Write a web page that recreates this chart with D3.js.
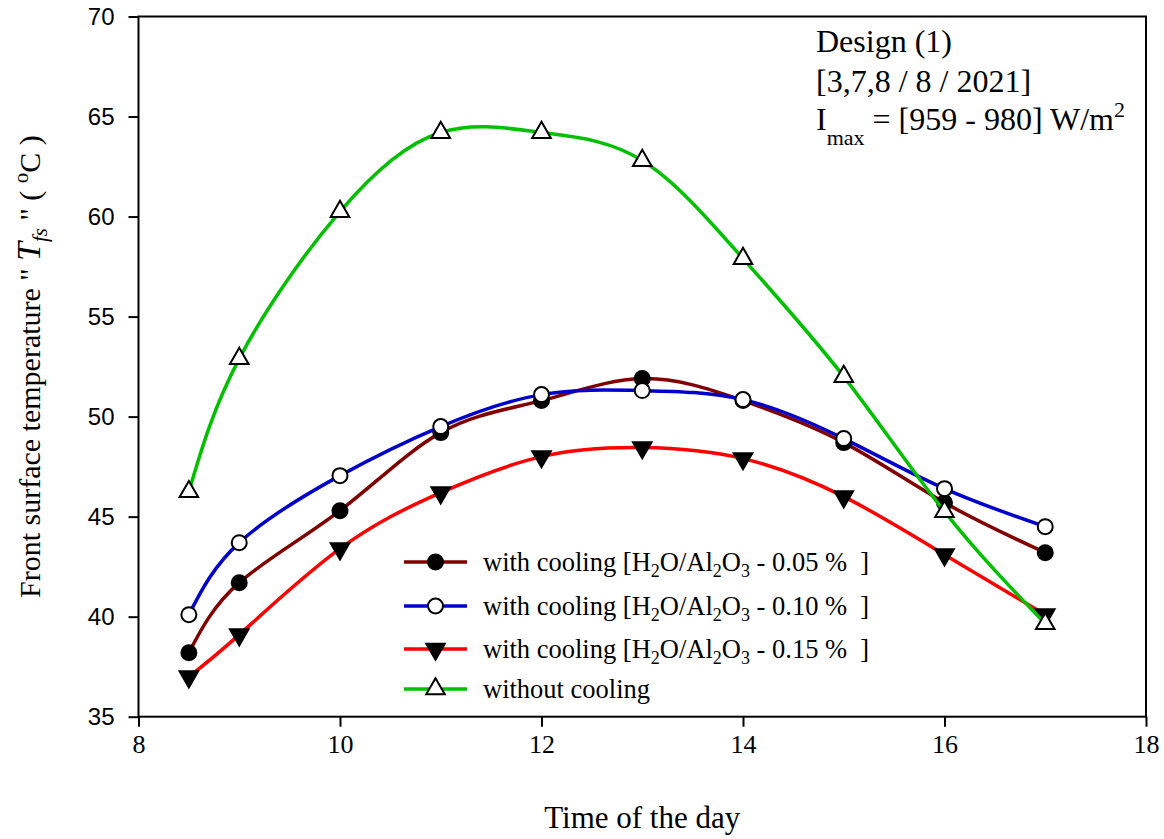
<!DOCTYPE html>
<html>
<head>
<meta charset="utf-8">
<script src="https://d3js.org/d3.v7.min.js"></script>
<style>
  html, body { margin: 0; padding: 0; background: #fff; }
  svg { display: block; }
  text { white-space: pre; }
</style>
</head>
<body>
<svg id="chart" width="1164" height="839"></svg>
<script>
// Time of day (hours)
const hours = [8.5, 9, 10, 11, 12, 13, 14, 15, 16, 17];

// Front surface temperature (°C) for each case
const cool005 = [38.2, 41.7, 45.3, 49.2, 50.8, 51.9, 50.8, 48.7, 45.7, 43.2];
const cool010 = [40.1, 43.7, 47.05, 49.5, 51.1, 51.3, 50.85, 48.9, 46.4, 44.5];
const cool015 = [37.0, 39.1, 43.4, 46.2, 48.0, 48.45, 47.9, 46.0, 43.1, 40.1];
const noCool  = [46.25, 52.9, 60.25, 64.2, 64.2, 62.8, 57.9, 52.0, 45.25, 39.65];

const xTicks = [8, 10, 12, 14, 16, 18];
const yTicks = [35, 40, 45, 50, 55, 60, 65, 70];

const seriesNames = ["0.05", "0.10", "0.15", null];
const seriesColors = ["#800000", "#0000cc", "#ff0000", "#00c000"];
const seriesMarkers = ["dotFilled", "dotOpen", "triDown", "triUp"];
const seriesValues = [cool005, cool010, cool015, noCool];

const svg = d3.select("#chart");
const plotL = 138.5, plotR = 1146, plotT = 16.5, plotB = 716.7;

const x = d3.scaleLinear().domain([8, 18]).range([plotL, plotR]);
const y = d3.scaleLinear().domain([35, 70]).range([plotB, plotT]);

// Axes
const xAxis = svg.append("g")
  .attr("transform", `translate(0,${plotB})`)
  .call(d3.axisBottom(x).tickValues(xTicks).tickSize(10).tickSizeOuter(0).tickPadding(8).tickFormat(d3.format("d")));
xAxis.selectAll("text")
  .attr("font-family", "'Liberation Serif', 'Times New Roman', serif")
  .attr("font-size", 26).attr("fill", "#000");

const yAxis = svg.append("g")
  .attr("transform", `translate(${plotL},0)`)
  .call(d3.axisLeft(y).tickValues(yTicks).tickSize(10).tickSizeOuter(0).tickPadding(14).tickFormat(d3.format("d")));
yAxis.selectAll("text")
  .attr("font-family", "'Liberation Sans', Arial, sans-serif")
  .attr("font-size", 24).attr("fill", "#000");

svg.selectAll(".domain").remove();
svg.selectAll(".tick line").attr("stroke", "#000").attr("stroke-width", 2);

// Frame
svg.append("rect")
  .attr("x", plotL).attr("y", plotT)
  .attr("width", plotR - plotL).attr("height", plotB - plotT)
  .attr("fill", "none").attr("stroke", "#000").attr("stroke-width", 2);

// Marker drawing
function drawMarker(g, type, cx, cy) {
  if (type === "dotFilled" || type === "dotOpen") {
    g.append("circle").attr("cx", cx).attr("cy", cy).attr("r", 7.5)
      .attr("fill", type === "dotFilled" ? "#000" : "#fff")
      .attr("stroke", "#000").attr("stroke-width", 2);
  } else {
    const sym = d3.symbol().type(d3.symbolTriangle).size(150);
    g.append("path").attr("d", sym())
      .attr("transform", `translate(${cx},${cy}) rotate(${type === "triDown" ? 180 : 0})`)
      .attr("fill", type === "triDown" ? "#000" : "#fff")
      .attr("stroke", "#000").attr("stroke-width", 2).attr("stroke-linejoin", "miter");
  }
}

const line = d3.line()
  .x(d => x(d[0]))
  .y(d => y(d[1]))
  .curve(d3.curveNatural);

seriesValues.forEach((vals, i) => {
  const g = svg.append("g");
  const pts = hours.map((h, j) => [h, vals[j]]);
  g.append("path").datum(pts)
    .attr("d", line)
    .attr("fill", "none")
    .attr("stroke", seriesColors[i])
    .attr("stroke-width", 3.5);
  pts.forEach(p => drawMarker(g, seriesMarkers[i], x(p[0]), y(p[1])));
});

// Legend
const serif = "'Liberation Serif', 'Times New Roman', serif";
const legendRows = [562, 606, 649, 689];
legendRows.forEach((ry, i) => {
  const g = svg.append("g");
  g.append("line").attr("x1", 404).attr("x2", 467).attr("y1", ry).attr("y2", ry)
    .attr("stroke", seriesColors[i]).attr("stroke-width", 3.5);
  drawMarker(g, seriesMarkers[i], 435.5, ry);
  const t = g.append("text").attr("x", 483).attr("y", ry + 9)
    .attr("font-family", serif).attr("font-size", 26.5).attr("fill", "#000");
  if (seriesNames[i] === null) {
    t.text("without cooling");
  } else {
    t.append("tspan").text("with cooling [H");
    t.append("tspan").attr("font-size", 18).attr("dy", 6).text("2");
    t.append("tspan").attr("dy", -6).text("O/Al");
    t.append("tspan").attr("font-size", 18).attr("dy", 6).text("2");
    t.append("tspan").attr("dy", -6).text("O");
    t.append("tspan").attr("font-size", 18).attr("dy", 6).text("3");
    t.append("tspan").attr("dy", -6).text(" - " + seriesNames[i] + " %  ]");
  }
});

// Annotation
const ann = svg.append("g").attr("font-family", serif).attr("font-size", 32).attr("fill", "#000");
ann.append("text").attr("x", 816).attr("y", 52).text("Design (1)");
ann.append("text").attr("x", 816).attr("y", 92).text("[3,7,8 / 8 / 2021]");
const l3 = ann.append("text").attr("x", 816).attr("y", 130);
l3.append("tspan").text("I");
l3.append("tspan").attr("font-size", 22).attr("dy", 15).text("max");
l3.append("tspan").attr("dy", -15).text(" = [959 - 980] W/m");
l3.append("tspan").attr("font-size", 22).attr("dy", -13).text("2");

// Axis titles
svg.append("text")
  .attr("x", (plotL + plotR) / 2).attr("y", 828)
  .attr("text-anchor", "middle")
  .attr("font-family", serif).attr("font-size", 31).attr("fill", "#000")
  .text("Time of the day");

const yt = svg.append("text")
  .attr("transform", `translate(40,${(plotT + plotB) / 2}) rotate(-90)`)
  .attr("text-anchor", "middle")
  .attr("font-family", serif).attr("font-size", 30).attr("fill", "#000");
yt.append("tspan").text("Front surface temperature \" ");
yt.append("tspan").attr("font-style", "italic").attr("font-size", 34).text("T");
yt.append("tspan").attr("font-style", "italic").attr("font-size", 21).attr("dy", 7).text("fs");
yt.append("tspan").attr("dy", -7).text(" \" ( ");
yt.append("tspan").attr("font-size", 21).attr("dy", -12).text("o");
yt.append("tspan").attr("dy", 12).text("C )");
</script>
</body>
</html>
